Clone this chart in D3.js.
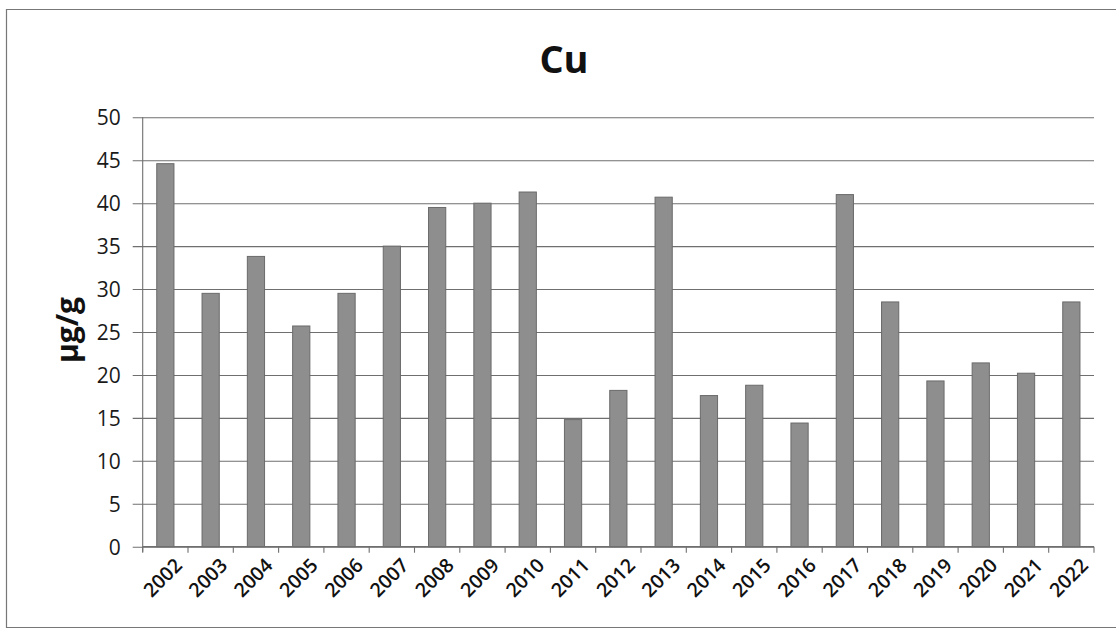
<!DOCTYPE html>
<html>
<head>
<meta charset="utf-8">
<script src="https://cdn.jsdelivr.net/npm/d3@7/dist/d3.min.js"></script>
<style>
  html, body { margin: 0; padding: 0; background: #fff; }
  svg { display: block; }
</style>
</head>
<body>
<svg id="chart" width="1118" height="629"></svg>
<script>
// Annual copper concentration (µg/g)
const years = ["2002","2003","2004","2005","2006","2007","2008","2009","2010","2011","2012",
               "2013","2014","2015","2016","2017","2018","2019","2020","2021","2022"];
const cuValues = [44.6, 29.5, 33.8, 25.7, 29.5, 35.0, 39.5, 40.0, 41.3, 14.8, 18.2,
                  40.7, 17.6, 18.8, 14.4, 41.0, 28.5, 19.3, 21.4, 20.2, 28.5];
const yTicks = [0, 5, 10, 15, 20, 25, 30, 35, 40, 45, 50];

const svg = d3.select("#chart");
const plot = { left: 142.7, right: 1094, top: 117.3, bottom: 546.7 };
const font = "'Open Sans', 'Liberation Sans', sans-serif";

// outer chart frame
svg.append("path")
  .attr("d", `M1116,9.5 H6.5 V627.5 H1116`)
  .attr("fill", "none").attr("stroke", "#777").attr("stroke-width", 1.2);

const x = d3.scaleBand().domain(years)
  .range([plot.left, plot.right])
  .paddingInner(0.62).paddingOuter(0.31);
const y = d3.scaleLinear().domain([0, 50]).range([plot.bottom, plot.top]);

// horizontal gridlines + y tick labels
const yAxis = d3.axisLeft(y).tickValues(yTicks)
  .tickSize(-(plot.right - plot.left + 10)).tickPadding(0)
  .tickFormat(d3.format("d"));
const gy = svg.append("g").attr("transform", `translate(${plot.left - 10},0)`).call(yAxis);
gy.select(".domain").remove();
gy.selectAll(".tick line").attr("stroke", "#6f6f6f").attr("stroke-width", 1.1);
gy.selectAll(".tick text")
  .attr("x", -12).attr("dy", "0.35em")
  .attr("font-family", font).attr("font-size", 21).attr("fill", "#1a1a1a");

// y axis line
svg.append("line")
  .attr("x1", plot.left).attr("x2", plot.left)
  .attr("y1", plot.top).attr("y2", plot.bottom + 5)
  .attr("stroke", "#6f6f6f").attr("stroke-width", 1.1);

// bars
svg.append("g").selectAll("rect").data(years).join("rect")
  .attr("x", d => x(d))
  .attr("width", x.bandwidth())
  .attr("y", (d, i) => y(cuValues[i]))
  .attr("height", (d, i) => y(0) - y(cuValues[i]))
  .attr("fill", "#8e8e8e")
  .attr("stroke", "#6a6a6a").attr("stroke-width", 1);

// x axis line and boundary ticks
svg.append("line")
  .attr("x1", plot.left).attr("x2", plot.right)
  .attr("y1", plot.bottom).attr("y2", plot.bottom)
  .attr("stroke", "#6f6f6f").attr("stroke-width", 1.2);
const bounds = d3.range(years.length + 1).map(i => plot.left + i * x.step());
svg.append("g").selectAll("line").data(bounds).join("line")
  .attr("x1", d => d).attr("x2", d => d)
  .attr("y1", plot.bottom).attr("y2", plot.bottom + 6)
  .attr("stroke", "#6f6f6f").attr("stroke-width", 1.1);

// rotated year labels
svg.append("g").selectAll("text").data(years).join("text")
  .attr("transform", d => `translate(${x(d) + x.bandwidth() / 2 + 8},${plot.bottom + 10}) rotate(-45)`)
  .attr("text-anchor", "end").attr("dy", "0.72em")
  .attr("font-family", font).attr("font-weight", 600).attr("font-size", 19.5).attr("fill", "#111")
  .text(d => d);

// title
svg.append("text")
  .attr("x", 564).attr("y", 72.5).attr("text-anchor", "middle")
  .attr("font-family", font).attr("font-weight", 700).attr("font-size", 38)
  .attr("fill", "#111").text("Cu");

// y axis title
svg.append("text")
  .attr("transform", `translate(78,330) rotate(-90)`)
  .attr("text-anchor", "middle")
  .attr("font-family", font).attr("font-weight", 700).attr("font-size", 30)
  .attr("fill", "#111").text("µg/g");
</script>
</body>
</html>
